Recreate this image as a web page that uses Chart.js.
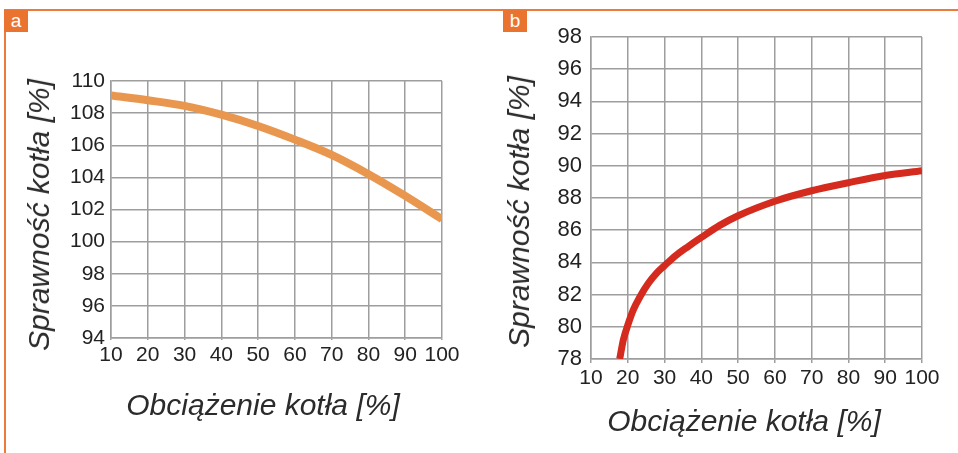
<!DOCTYPE html>
<html lang="pl">
<head>
<meta charset="UTF-8">
<title>Sprawność kotła</title>
<script src="https://cdn.jsdelivr.net/npm/chart.js"></script>
<style>
    body { margin: 0; background: #fff; width: 958px; height: 453px; position: relative; overflow: hidden; font-family: 'Liberation Sans', Arial, sans-serif; }
    .frame-top { position: absolute; left: 4px; top: 9px; width: 954px; height: 2px; background: #ec7a3c; }
    .frame-left { position: absolute; left: 4px; top: 9px; width: 2px; height: 444px; background: #ec7a3c; }
    .tag { position: absolute; top: 10px; width: 24px; height: 22px; background: #ea7330; color: #fff; font-size: 19px; line-height: 21px; text-align: center; }
    .box { position: absolute; }
    .ytitle, .xtitle { position: absolute; font-style: italic; font-size: 30px; color: #2b2b2b; white-space: nowrap; }
    .ytitle { transform: translate(-50%, -50%) rotate(-90deg); }
    .xtitle { transform: translate(-50%, -50%); }
</style>
</head>
<body>
<div class="frame-top"></div>
<div class="frame-left"></div>
<div class="tag" style="left:4px">a</div>
<div class="tag" style="left:503px">b</div>

<div class="box" style="left:10px; top:35px; width:470px; height:418px"><canvas id="chartA"></canvas></div>
<div class="box" style="left:490px; top:0px; width:468px; height:453px"><canvas id="chartB"></canvas></div>

<div class="ytitle" style="left:39px; top:215px">Sprawność kotła [%]</div>
<div class="xtitle" style="left:263px; top:405px">Obciążenie kotła [%]</div>
<div class="ytitle" style="left:519px; top:212px">Sprawność kotła [%]</div>
<div class="xtitle" style="left:744px; top:421px">Obciążenie kotła [%]</div>

<script>
    // a) kocioł kondensacyjny
    const loadA = [10, 20, 30, 40, 50, 60, 70, 80, 90, 100];
    const effA = [109.1, 108.8, 108.45, 107.9, 107.2, 106.35, 105.4, 104.2, 102.85, 101.4];

    // b) kocioł tradycyjny
    const loadB = [17.8, 18.8, 20, 21.5, 23.4, 25.6, 27.9, 30, 32.9, 36.5, 40, 45, 50, 60, 70, 80, 90, 100];
    const effB = [78.0, 79.2, 80.1, 81.05, 81.9, 82.7, 83.35, 83.8, 84.4, 85.0, 85.55, 86.3, 86.9, 87.8, 88.45, 88.95, 89.4, 89.7];

    const xTicks = [10, 20, 30, 40, 50, 60, 70, 80, 90, 100];
    const yTicksA = [94, 96, 98, 100, 102, 104, 106, 108, 110];
    const yTicksB = [78, 80, 82, 84, 86, 88, 90, 92, 94, 96, 98];

    const gridColor = '#9e9e9e';
    const textColor = '#222';

    function makeChart(id, xs, ys, color, yTicks, opts) {
        return new Chart(document.getElementById(id), {
            type: 'scatter',
            data: {
                datasets: [{
                    data: xs.map((x, i) => ({ x: x, y: ys[i] })),
                    showLine: true,
                    borderColor: color,
                    borderWidth: opts.lineWidth,
                    pointRadius: 0,
                    cubicInterpolationMode: 'monotone',
                    clip: 0
                }]
            },
            options: {
                responsive: true,
                maintainAspectRatio: false,
                animation: false,
                layout: { padding: opts.padding },
                plugins: { legend: { display: false }, tooltip: { enabled: false } },
                scales: {
                    x: {
                        type: 'linear',
                        min: 10, max: 100,
                        afterBuildTicks: s => { s.ticks = xTicks.map(v => ({ value: v })); },
                        afterFit: s => { s.height = opts.xHeight; },
                        grid: { color: gridColor, lineWidth: 1.5, tickLength: opts.tickLen },
                        border: { color: gridColor, width: 1.5 },
                        ticks: { color: textColor, font: opts.xFont, padding: opts.xPad, maxRotation: 0, autoSkip: false }
                    },
                    y: {
                        min: yTicks[0], max: yTicks[yTicks.length - 1],
                        afterBuildTicks: s => { s.ticks = yTicks.map(v => ({ value: v })); },
                        afterFit: s => { s.width = opts.yWidth; },
                        grid: { color: gridColor, lineWidth: 1.5, drawTicks: false },
                        border: { color: gridColor, width: 1.5 },
                        ticks: { color: textColor, font: opts.yFont, padding: opts.yPad, autoSkip: false }
                    }
                }
            }
        });
    }

    makeChart('chartA', loadA, effA, '#e9974e', yTicksA, {
        lineWidth: 8,
        padding: { left: 0, right: 38, top: 46, bottom: 0 },
        xHeight: 115,
        yWidth: 101,
        tickLen: 2,
        xPad: 3,
        yPad: 6,
        xFont: { family: "'Liberation Sans Narrow', 'Liberation Sans', Arial", size: 21 },
        yFont: { family: "'Liberation Sans', Arial", size: 21 }
    });

    makeChart('chartB', loadB, effB, '#d52b1f', yTicksB, {
        lineWidth: 7,
        padding: { left: 0, right: 36, top: 37, bottom: 0 },
        xHeight: 94,
        yWidth: 101,
        tickLen: 4,
        xPad: 3,
        yPad: 9,
        xFont: { family: "'Liberation Sans', Arial", size: 21 },
        yFont: { family: "'Liberation Sans', Arial", size: 22 }
    });
</script>
</body>
</html>
